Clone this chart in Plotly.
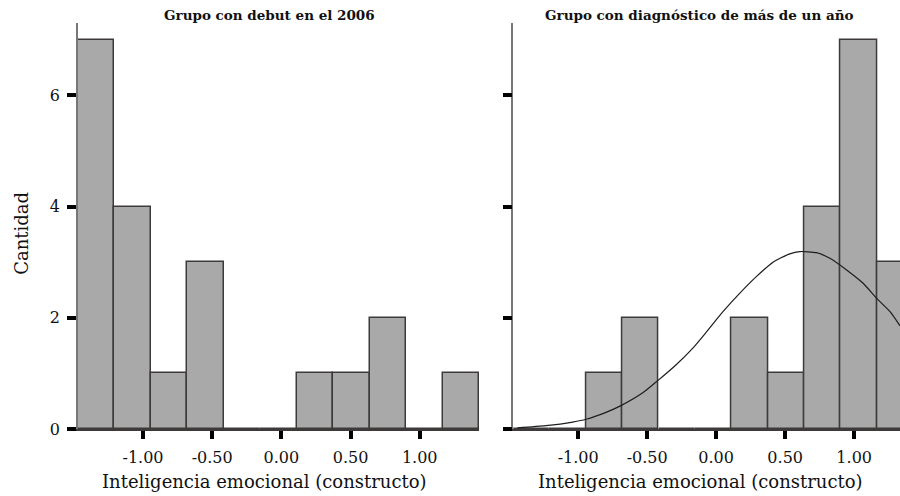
import plotly.graph_objects as go

# ---- data ----
bin_centers = [-1.338, -1.075, -0.811, -0.548, -0.284, -0.021, 0.243, 0.506, 0.770, 1.033, 1.297]
bin_width = 0.2635
counts_debut = [7, 4, 1, 3, 0, 0, 1, 1, 2, 0, 1]
counts_diag = [0, 0, 1, 2, 0, 0, 2, 1, 4, 7, 3]

curve_x = [-1.44, -1.234, -1.04, -0.943, -0.798, -0.69, -0.532, -0.423, -0.29, -0.169, -0.072,
           0.049, 0.17, 0.291, 0.412, 0.533, 0.606, 0.727, 0.824, 0.945, 1.065, 1.163, 1.26, 1.332]
curve_y = [0.02, 0.06, 0.125, 0.175, 0.30, 0.42, 0.65, 0.87, 1.155, 1.455, 1.74,
           2.11, 2.44, 2.74, 3.0, 3.15, 3.19, 3.17, 3.07, 2.86, 2.62, 2.35, 2.11, 1.855]

tick_vals_x = [-1.0, -0.5, 0.0, 0.5, 1.0]
tick_text_x = ["-1.00", "-0.50", "0.00", "0.50", "1.00"]
tick_vals_y = [0, 2, 4, 6]

title_left = "Grupo con debut en el 2006"
title_right = "Grupo con diagnóstico de más de un año"
x_title = "Inteligencia emocional (constructo)"
y_title = "Cantidad"

FONT = "DejaVu Serif"
BAR_FILL = "#a9a9a9"
BAR_LINE = "#3f3a3a"

fig = go.Figure()
fig.add_trace(go.Bar(x=bin_centers, y=counts_debut, width=bin_width,
                     marker=dict(color=BAR_FILL, line=dict(color=BAR_LINE, width=1.5)),
                     xaxis="x", yaxis="y", showlegend=False, hoverinfo="x+y"))
fig.add_trace(go.Bar(x=bin_centers, y=counts_diag, width=bin_width,
                     marker=dict(color=BAR_FILL, line=dict(color=BAR_LINE, width=1.5)),
                     xaxis="x2", yaxis="y2", showlegend=False, hoverinfo="x+y"))
fig.add_trace(go.Scatter(x=curve_x, y=curve_y, mode="lines",
                         line=dict(color="#1e1e1e", width=1.2, shape="spline", smoothing=0.6),
                         xaxis="x2", yaxis="y2", showlegend=False, hoverinfo="skip"))

W, H = 900, 496
TOP, BOT = 23, 429.3
xr = [-1.47, -1.47 + 11 * bin_width]
xr2 = [-1.47, 1.332]
yr = [0, 7.3]

common_x = dict(tickmode="array", tickvals=tick_vals_x, ticktext=tick_text_x,
                ticks="outside", ticklen=8, tickwidth=3.5, tickcolor="#000",
                ticklabelstandoff=5,
                showline=True, linecolor="#3f3a3a", linewidth=1.5,
                showgrid=False, zeroline=False,
                tickfont=dict(family=FONT, size=16, color="#111"))
common_y = dict(range=yr, tickmode="array", tickvals=tick_vals_y,
                ticks="outside", ticklen=9, tickwidth=4, tickcolor="#000",
                ticklabelstandoff=4,
                showline=True, linecolor="#777", linewidth=1.5,
                showgrid=False, zeroline=False,
                tickfont=dict(family=FONT, size=16, color="#111"))

fig.update_layout(
    width=W, height=H,
    margin=dict(l=0, r=0, t=TOP, b=H - BOT, pad=0),
    paper_bgcolor="white", plot_bgcolor="white",
    barmode="overlay", bargap=0,
    font=dict(family=FONT, color="#111"),
    xaxis=dict(domain=[78 / W, 479 / W], range=xr, anchor="y", **common_x),
    xaxis2=dict(domain=[513.3 / W, 1.0], range=xr2, anchor="y2", **common_x),
    yaxis=dict(domain=[0, 1], anchor="x", showticklabels=True, **common_y),
    yaxis2=dict(domain=[0, 1], anchor="x2", showticklabels=False, **common_y),
)


def py2paper(py):
    return (BOT - py) / (BOT - TOP)


ann = [
    dict(text="<b>" + title_left + "</b>", x=269.5 / W, y=py2paper(15),
         font=dict(family=FONT, size=13.5, color="#111")),
    dict(text="<b>" + title_right + "</b>", x=699 / W, y=py2paper(15),
         font=dict(family=FONT, size=13.5, color="#111")),
    dict(text=x_title, x=264 / W, y=py2paper(482),
         font=dict(family=FONT, size=18, color="#111")),
    dict(text=x_title, x=700 / W, y=py2paper(482),
         font=dict(family=FONT, size=18, color="#111")),
    dict(text=y_title, x=22 / W, y=py2paper(234), textangle=-90,
         font=dict(family=FONT, size=18, color="#111")),
]
for a in ann:
    a.update(xref="paper", yref="paper", xanchor="center", yanchor="middle", showarrow=False)
fig.update_layout(annotations=ann)

fig.write_html("out.html", config={"displayModeBar": False},
               post_script="document.body.style.margin='0';document.body.style.padding='0';")
